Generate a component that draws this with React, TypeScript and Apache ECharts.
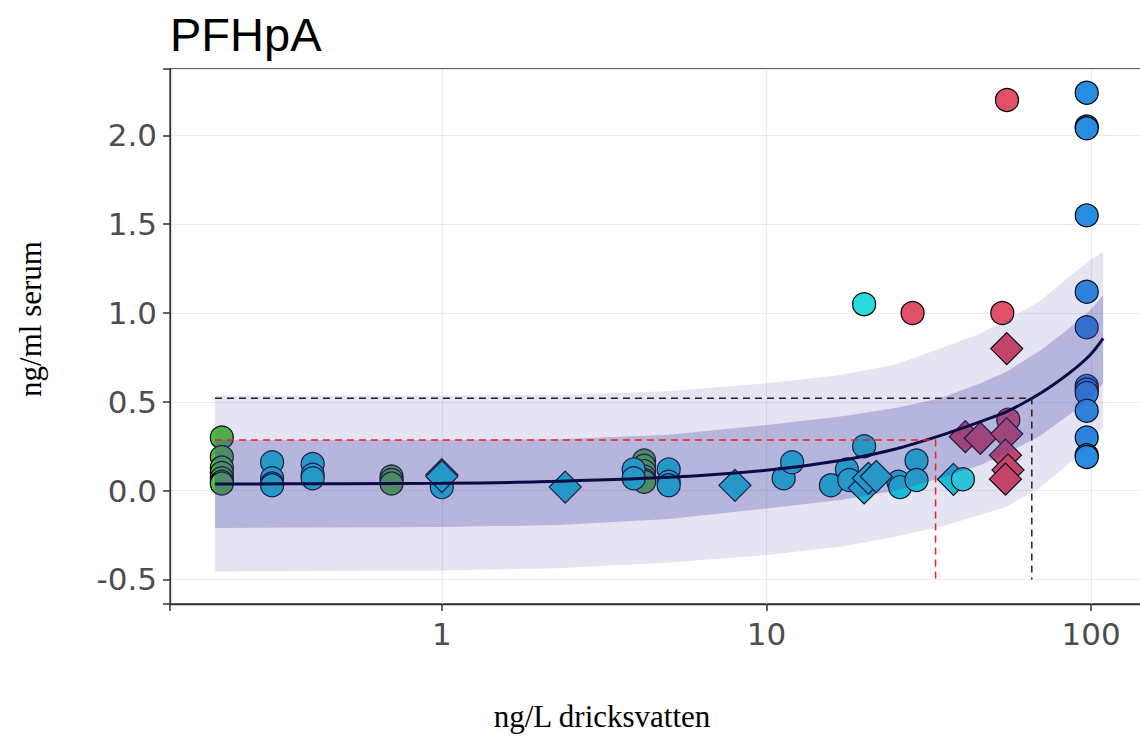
import React, { useEffect, useRef } from "react";
import * as echarts from "echarts";

// ---- tick labels ----
const xTicks = [1, 10, 100];
const yTicks = [-0.5, 0, 0.5, 1, 1.5, 2];

// ---- points [x (ng/L), y (ng/ml)] ----
const greenCircles: [number, number][] = [
  [0.21, 0.3], [0.21, 0.19], [0.21, 0.13], [0.21, 0.1], [0.21, 0.07], [0.21, 0.05], [0.21, 0.04],
  [0.7, 0.08], [0.7, 0.06], [0.7, 0.04],
  [4.2, 0.17], [4.2, 0.14], [4.2, 0.11], [4.2, 0.08], [4.2, 0.06], [4.2, 0.05],
];
const tealCircles: [number, number][] = [
  [0.3, 0.16], [0.3, 0.07], [0.3, 0.04], [0.3, 0.03],
  [0.4, 0.15], [0.4, 0.09], [0.4, 0.07],
  [1.0, 0.02],
  [3.9, 0.12], [3.9, 0.07],
  [5.0, 0.12], [5.0, 0.05], [5.0, 0.03],
  [11.3, 0.07], [12.0, 0.16],
  [15.8, 0.03], [17.7, 0.12], [18.0, 0.06],
  [20.0, 0.25],
  [25.5, 0.05], [25.8, 0.02], [29.0, 0.17], [29.0, 0.06],
];
const tealDiamonds: [number, number][] = [
  [1.0, 0.09], [1.0, 0.08], [2.4, 0.02], [8.0, 0.03],
  [20.0, 0.015], [20.6, 0.07], [21.8, 0.08], [37.7, 0.064],
];
const cyanCircles: [number, number][] = [
  [20.0, 1.05], [40.3, 0.064],
];
const redCircles: [number, number][] = [
  [28.2, 1.0], [53.3, 1.0], [55.1, 2.2], [55.6, 0.4],
];
const redDiamonds: [number, number][] = [
  [55.0, 0.8], [41.0, 0.304], [45.6, 0.295], [55.0, 0.32], [54.5, 0.2], [55.5, 0.117], [54.5, 0.065],
];
const blueCircles: [number, number][] = [
  [97, 2.24], [97, 2.05], [97, 2.04], [97, 1.55], [97, 1.12], [97, 0.92],
  [97, 0.59], [97, 0.57], [97, 0.55], [97, 0.45], [97, 0.3], [97, 0.2], [97, 0.19],
];

// ---- fitted curve ----
const fitX = [0.2, 0.5, 1, 2, 5, 10, 16.9, 25, 34.3, 45, 55, 65.8, 75, 88.2, 100, 109];
const fitY = [0.038, 0.039, 0.042, 0.05, 0.075, 0.115, 0.17, 0.235, 0.31, 0.385, 0.445, 0.52, 0.585, 0.68, 0.77, 0.858];

// ---- bands ----
const bandX = [0.2, 1, 2.3, 5, 10, 16.9, 25, 34.3, 45, 55, 70, 88.2, 100, 109];
const innerUpper = [0.285, 0.285, 0.29, 0.315, 0.37, 0.417, 0.465, 0.52, 0.6, 0.67, 0.79, 0.933, 1.02, 1.1];
const innerLower = [-0.21, -0.205, -0.193, -0.16, -0.1, -0.052, 0.0, 0.07, 0.14, 0.21, 0.31, 0.445, 0.53, 0.605];
const outerUpper = [0.535, 0.535, 0.539, 0.56, 0.605, 0.651, 0.71, 0.8, 0.88, 0.961, 1.07, 1.224, 1.3, 1.346];
const outerLower = [-0.455, -0.45, -0.437, -0.405, -0.362, -0.315, -0.26, -0.203, -0.14, -0.09, 0.02, 0.173, 0.26, 0.36];

// ---- reference lines ----
const redRef: [number, number][] = [[0.2, 0.285], [33.2, 0.285], [33.2, -0.5]];
const blackRef: [number, number][] = [[0.2, 0.52], [65.7, 0.52], [65.7, -0.5]];

const X_MIN = 0.1454;
const X_MAX = 144.6;
const Y_MIN = -0.638;
const Y_MAX = 2.374;

function bandSeries(upper: number[], lower: number[], fill: string, z: number) {
  return {
    type: "custom",
    coordinateSystem: "cartesian2d",
    silent: true,
    clip: true,
    z,
    data: [[bandX[0], lower[0]]],
    renderItem: (_params: any, api: any) => {
      const pts: number[][] = [];
      for (let i = 0; i < bandX.length; i++) pts.push(api.coord([bandX[i], upper[i]]));
      for (let i = bandX.length - 1; i >= 0; i--) pts.push(api.coord([bandX[i], lower[i]]));
      return { type: "polygon", shape: { points: pts }, style: { fill } };
    },
  };
}

function scatter(data: [number, number][], color: string, symbol: string, size: number) {
  return {
    type: "scatter",
    z: 2,
    data,
    symbol,
    symbolSize: size,
    itemStyle: { color, borderColor: "#000", borderWidth: 1.2, opacity: 1 },
    emphasis: { disabled: true },
  };
}

export default function App() {
  const ref = useRef<HTMLDivElement>(null);
  useEffect(() => {
    if (!ref.current) return;
    const chart = echarts.init(ref.current, undefined, { renderer: "svg" });
    const near = (v: number, arr: number[]) => arr.some((t) => Math.abs(t - v) < 1e-6 * Math.max(1, Math.abs(t)));
    chart.setOption({
      animation: false,
      backgroundColor: "#ffffff",
      grid: {
        left: 170,
        right: -3,
        top: 69,
        bottom: 133,
        outerBoundsMode: "none",
        containLabel: false,
        show: true,
        borderColor: "#333333",
        borderWidth: 1.3,
        backgroundColor: "transparent",
      },
      xAxis: {
        type: "log",
        logBase: 10,
        min: X_MIN,
        max: X_MAX,
        position: "bottom",
        axisLine: { show: true, onZero: false, lineStyle: { color: "#333333", width: 1.3 } },
        axisTick: { show: true, length: 7, lineStyle: { color: "#333333", width: 1.5 } },
        axisLabel: {
          formatter: (v: number) => (near(v, xTicks) ? String(Math.round(v)) : ""),
          fontSize: 31,
          fontFamily: "DejaVu Sans",
          color: "#4d4d4d",
          margin: 14,
        },
        splitLine: { show: true, lineStyle: { color: "#ebebeb", width: 1.2 } },
        minorSplitLine: { show: false },
      },
      yAxis: {
        type: "value",
        min: Y_MIN,
        max: Y_MAX,
        position: "left",
        axisLine: { show: true, onZero: false, lineStyle: { color: "#333333", width: 1.3 } },
        axisTick: { show: true, length: 7, lineStyle: { color: "#333333", width: 1.5 } },
        axisLabel: {
          formatter: (v: number) => (near(v, yTicks) ? v.toFixed(1) : ""),
          fontSize: 31,
          fontFamily: "DejaVu Sans",
          color: "#4d4d4d",
          margin: 13,
        },
        splitLine: { show: true, lineStyle: { color: "#ebebeb", width: 1.2 } },
      },
      graphic: [
        {
          type: "text",
          x: 170,
          y: 34,
          style: { text: "PFHpA", fontFamily: "Liberation Sans", fontSize: 47, fill: "#000", align: "left", verticalAlign: "middle" },
        },
        {
          type: "text",
          x: 30,
          y: 319,
          rotation: Math.PI / 2,
          style: { text: "ng/ml serum", fontFamily: "Liberation Serif", fontSize: 31, fill: "#000", align: "center", verticalAlign: "middle" },
        },
        {
          type: "text",
          x: 602,
          y: 716,
          style: { text: "ng/L dricksvatten", fontFamily: "Liberation Serif", fontSize: 31, fill: "#000", align: "center", verticalAlign: "middle" },
        },
      ],
      series: [
        scatter(greenCircles, "#52bd3a", "circle", 23),
        scatter(tealCircles, "#12d0dc", "circle", 23),
        scatter(tealDiamonds, "#12d0dc", "diamond", 32),
        scatter(cyanCircles, "#2ad9e0", "circle", 23),
        scatter(redCircles, "#e15068", "circle", 23),
        scatter(redDiamonds, "#d9475f", "diamond", 32),
        scatter(blueCircles, "#288ce2", "circle", 23),
        bandSeries(outerUpper, outerLower, "rgba(70,70,170,0.146)", 5),
        bandSeries(innerUpper, innerLower, "rgba(70,70,170,0.29)", 6),
        {
          type: "line",
          z: 7,
          data: fitX.map((x, i) => [x, fitY[i]]),
          symbol: "none",
          smooth: 0.3,
          lineStyle: { color: "#0b0b45", width: 3 },
          silent: true,
        },
        {
          type: "line",
          z: 8,
          data: redRef,
          symbol: "none",
          lineStyle: { color: "#ee2020", width: 1.5, type: [7, 5] },
          silent: true,
        },
        {
          type: "line",
          z: 8,
          data: blackRef,
          symbol: "none",
          lineStyle: { color: "#222222", width: 1.5, type: [7, 5] },
          silent: true,
        },
      ],
    });
    return () => chart.dispose();
  }, []);
  return (
    <div
      ref={ref}
      style={{ position: "absolute", left: 0, top: 0, width: 1140, height: 737, background: "#fff" }}
    />
  );
}
